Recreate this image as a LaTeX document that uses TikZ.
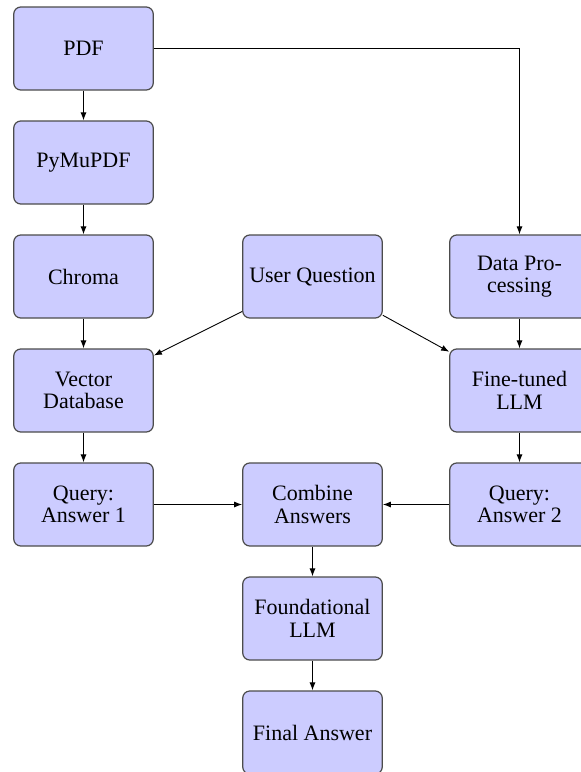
\documentclass[tikz,border=0pt]{standalone}
\usepackage{fontspec}
\setmainfont{Liberation Serif}
\newfontfamily\boxfont{Liberation Serif}
\usetikzlibrary{arrows.meta}
\begin{document}
\begin{tikzpicture}[x=0.5pt,y=-0.5pt,
  box/.style={draw=black!70, line width=0.6pt, fill=blue!20, rounded corners=3.5pt,
    minimum width=69.75pt, minimum height=41.5pt, inner sep=1pt, align=center,
    font=\boxfont\fontsize{11}{11.2}\selectfont},
  conn/.style={draw=black, line width=0.45pt, -{Latex[length=4pt,width=3pt]}}]
\useasboundingbox (0,0) rectangle (581,772);
\node[box] (pdf) at (83.5,48.5) {PDF};
\node[box] (pymu) at (83.5,162.5) {PyMuPDF};
\node[box] (chroma) at (83.5,276.5) {Chroma};
\node[box] (vdb) at (83.5,390.5) {Vector\\Database};
\node[box] (qa1) at (83.5,504.5) {Query:\\Answer 1};
\node[box] (uq) at (312.5,276.5) {User Question};
\node[box] (comb) at (312.5,504.5) {Combine\\Answers};
\node[box] (found) at (312.5,618.5) {Foundational\\LLM};
\node[box] (final) at (312.5,732.5) {Final Answer};
\node[box] (dp) at (519.5,276.5) {Data Pro-\\cessing};
\node[box] (ft) at (519.5,390.5) {Fine-tuned\\LLM};
\node[box] (qa2) at (519.5,504.5) {Query:\\Answer 2};
\draw[conn] (pdf) -- (pymu);
\draw[conn] (pymu) -- (chroma);
\draw[conn] (chroma) -- (vdb);
\draw[conn] (vdb) -- (qa1);
\draw[conn] (pdf.east) -| (dp.north);
\draw[conn] (dp) -- (ft);
\draw[conn] (ft) -- (qa2);
\draw[conn] (uq) -- (vdb);
\draw[conn] (uq) -- (ft);
\draw[conn] (qa1) -- (comb);
\draw[conn] (qa2) -- (comb);
\draw[conn] (comb) -- (found);
\draw[conn] (found) -- (final);
\end{tikzpicture}
\end{document}
